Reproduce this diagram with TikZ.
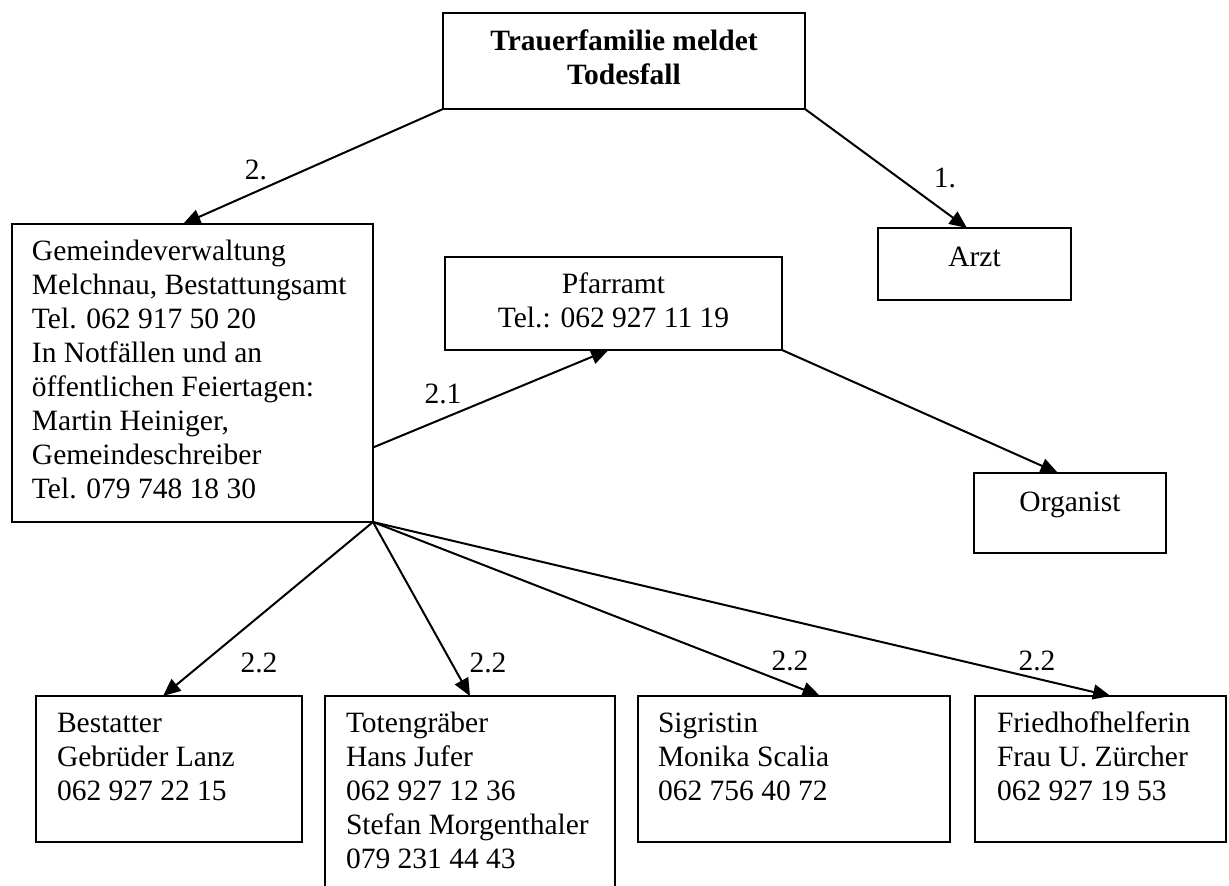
\documentclass[tikz,border=0pt]{standalone}
\usepackage{fontspec}
\setmainfont{Liberation Serif}
\usetikzlibrary{arrows.meta,calc}
\tikzset{kasten/.style={draw,line width=0.8pt,anchor=north west,inner sep=0pt,outer sep=0pt}}
\tikzset{nummer/.style={inner sep=0pt}}
\tikzset{pfeil/.style={line width=0.8pt,-{Triangle[length=7pt,width=6pt]}}}
\newcommand{\feld}[3]{\parbox[c][#2][t]{#1}{\raggedright\strut #3}}
\newcommand{\mittelfeld}[3]{\parbox[c][#2][t]{#1}{\centering\strut #3}}

\begin{document}
\begin{tikzpicture}[x=0.4pt,y=-0.4pt,font=\fontsize{11.8}{13.6}\selectfont]
	\useasboundingbox (0,0) rectangle (1229,886);

	% obere Reihe
	\node[kasten] (familie) at (443,13) {\parbox[c][38.4pt][c]{144.8pt}{\centering\bfseries\strut Trauerfamilie meldet\\\strut Todesfall}};
	\node[kasten,inner ysep=6pt] (arzt) at (878,228) {\mittelfeld{77.2pt}{16.8pt}{Arzt}};
	\node[kasten,inner xsep=8pt,inner ysep=5.2pt] (gemeinde) at (12,224) {\feld{128.4pt}{108.8pt}{Gemeindeverwaltung\\Melchnau, Bestattungsamt\\Tel. 062 917 50 20\\In Notfällen und an\\öffentlichen Feiertagen:\\Martin Heiniger,\\Gemeindeschreiber\\Tel. 079 748 18 30}};
	\node[kasten,inner ysep=5pt] (pfarramt) at (445,257) {\mittelfeld{134.8pt}{27.2pt}{Pfarramt\\Tel.: 062 927 11 19}};
	\node[kasten,inner ysep=6pt] (organist) at (974,473) {\mittelfeld{76.8pt}{20pt}{Organist}};

	% untere Reihe
	\node[kasten,inner xsep=8.4pt,inner ysep=5.2pt] (bestatter) at (36,696) {\feld{89.6pt}{48pt}{Bestatter\\Gebrüder Lanz\\062 927 22 15}};
	\node[kasten,inner xsep=8.4pt,inner ysep=5.2pt] (totengraeber) at (325,696) {\feld{99.2pt}{69.6pt}{Totengräber\\Hans Jufer\\062 927 12 36\\Stefan Morgenthaler\\079 231 44 43}};
	\node[kasten,inner xsep=8pt,inner ysep=5.2pt] (sigristin) at (638,696) {\feld{108.8pt}{48pt}{Sigristin\\Monika Scalia\\062 756 40 72}};
	\node[kasten,inner xsep=8.8pt,inner ysep=5.2pt] (friedhof) at (975,696) {\feld{82.8pt}{48pt}{Friedhofhelferin\\Frau U. Zürcher\\062 927 19 53}};

	% Pfeile
	\coordinate (abgang) at ($(gemeinde.north east)!0.75!(gemeinde.south east)$);
	\draw[pfeil] (familie.south west) -- ([xshift=-3.8pt]gemeinde.north);
	\draw[pfeil] (familie.south east) -- ([xshift=-3pt]arzt.north);
	\draw[pfeil] (abgang) -- ([xshift=-2pt]pfarramt.south);
	\draw[pfeil] (pfarramt.south east) -- ([xshift=-4.8pt]organist.north);
	\draw[pfeil] (gemeinde.south east) -- ([xshift=-2.4pt]bestatter.north);
	\draw[pfeil] (gemeinde.south east) -- (totengraeber.north);
	\draw[pfeil] (gemeinde.south east) -- ([xshift=10.4pt]sigristin.north);
	\draw[pfeil] (gemeinde.south east) -- ([xshift=4pt]friedhof.north);

	% Nummern
	\node[nummer] (nr2) at (256,170) {2.};
	\node[nummer] (nr1) at (945,178) {1.};
	\node[nummer] (nr21) at (443,394) {2.1};
	\node[nummer] (nr22a) at (259,663) {2.2};
	\node[nummer] (nr22b) at (488,663) {2.2};
	\node[nummer] (nr22c) at (790,661) {2.2};
	\node[nummer] (nr22d) at (1037,661) {2.2};
\end{tikzpicture}
\end{document}
